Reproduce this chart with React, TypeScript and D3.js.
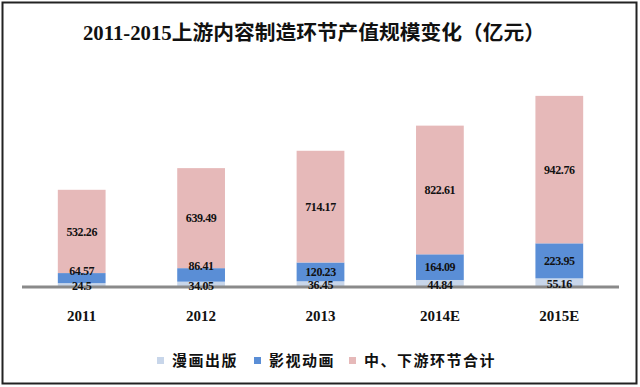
import React from 'react'
import * as d3 from 'd3'

const width = 640
const height = 387
const margin = {left: 22, right: 21, base: 287, top: 68}

const YEARS = ['2011', '2012', '2013', '2014E', '2015E']
const COMICS = [24.5, 34.05, 36.45, 44.84, 55.16]
const ANIMATION = [64.57, 86.41, 120.23, 164.09, 223.95]
const DOWNSTREAM = [532.26, 639.49, 714.17, 822.61, 942.76]
const SERIES_NAMES = ['漫画出版', '影视动画', '中、下游环节合计']
const COLORS = ['#c8d6ea', '#5a8ed6', '#e6b9b9']

const FONT = "'Liberation Serif', 'Noto Sans CJK SC', serif"

export default function App() {
  const x = d3.scaleBand()
    .domain(YEARS)
    .range([margin.left, width - margin.right])
    .paddingInner(0.6)
    .paddingOuter(0.3)
  const y = d3.scaleLinear().domain([0, 1400]).range([margin.base, margin.top])

  const series = [COMICS, ANIMATION, DOWNSTREAM]
  const stack = d3.stack<number>()
    .keys(['0', '1', '2'])
    .value((i, k) => series[+k][i])
  const layers = stack(d3.range(YEARS.length))

  // label positions: middle of segment, small blue ones pushed above if they'd hit the bottom label
  const labelY = (li: number, i: number) => {
    const seg = layers[li][i]
    const mid = (y(seg[0]) + y(seg[1])) / 2
    if (li === 0) return mid + 1
    if (li === 1) {
      const below = (y(layers[0][i][0]) + y(layers[0][i][1])) / 2 + 1
      if (below - mid < 12) return y(seg[1]) - 2
    }
    return mid
  }

  const legendX = [157, 254, 349]

  return (
    <svg width={width} height={height} style={{position: 'absolute', left: 0, top: 0}}>
      <rect x={0} y={0} width={width} height={height} fill="#fff" />
      <rect x={2.5} y={2.5} width={634} height={381} fill="none" stroke="#222" strokeWidth={2} />
      <text x={314} y={40} textAnchor="middle" fontFamily={FONT} fontWeight="bold" fontSize={20}
            textLength={462} lengthAdjust="spacingAndGlyphs" fill="#111">
        2011-2015上游内容制造环节产值规模变化（亿元）
      </text>

      {layers.map((layer, li) => (
        <g key={li} fill={COLORS[li]}>
          {layer.map((d, i) => (
            <rect key={i} x={x(YEARS[i])} width={x.bandwidth()}
                  y={y(d[1])} height={y(d[0]) - y(d[1])} />
          ))}
        </g>
      ))}

      <line x1={margin.left} x2={width - margin.right} y1={margin.base} y2={margin.base}
            stroke="#8a8a8a" strokeWidth={3} />

      {layers.map((layer, li) => (
        <g key={li} fontFamily={FONT} fontWeight="bold" fontSize={12} textAnchor="middle" fill="#111">
          {layer.map((d, i) => (
            <text key={i} x={x(YEARS[i])! + x.bandwidth() / 2} y={labelY(li, i)} dy="0.35em"
                  letterSpacing={-0.4}>
              {series[li][i]}
            </text>
          ))}
        </g>
      ))}

      <g fontFamily={FONT} fontWeight="bold" fontSize={15} textAnchor="middle" fill="#111">
        {YEARS.map(yr => (
          <text key={yr} x={x(yr)! + x.bandwidth() / 2} y={321}>{yr}</text>
        ))}
      </g>

      <g fontFamily={FONT} fontWeight="bold" fontSize={15} fill="#111">
        {SERIES_NAMES.map((name, i) => (
          <g key={name} transform={`translate(${legendX[i]}, 0)`}>
            <rect x={0} y={357} width={7} height={7} fill={COLORS[i]} />
            <text x={15} y={366} letterSpacing={1.5}>{name}</text>
          </g>
        ))}
      </g>
    </svg>
  )
}
